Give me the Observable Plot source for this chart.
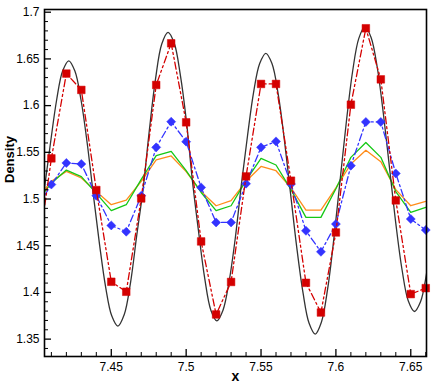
<!DOCTYPE html>
<html><head><meta charset="utf-8">
<script src="https://cdn.jsdelivr.net/npm/d3@7"></script>
<script src="https://cdn.jsdelivr.net/npm/@observablehq/plot@0.6"></script>
<style>body{margin:0;background:#fff} #chart{width:436px;height:388px}</style>
</head><body><div id="chart"></div>
<script>
// grid positions of the discrete solutions (7.40 and 7.66 fall just outside/at the frame)
const gridX = [7.40,7.41,7.42,7.43,7.44,7.45,7.46,7.47,7.48,7.49,7.50,7.51,7.52,7.53,7.54,7.55,7.56,7.57,7.58,7.59,7.60,7.61,7.62,7.63,7.64,7.65,7.66];
const redSquares = [1.430,1.5435,1.6343,1.6168,1.5096,1.4114,1.4007,1.5006,1.6221,1.6667,1.5821,1.4546,1.3764,1.4112,1.5242,1.6232,1.6232,1.5196,1.4103,1.3785,1.4642,1.6010,1.6828,1.6281,1.4985,1.3982,1.4046];
const blueDiamonds = [1.490,1.5155,1.5386,1.5375,1.5035,1.4717,1.4650,1.5035,1.5553,1.5828,1.5614,1.5124,1.4749,1.4749,1.5164,1.5553,1.5617,1.5160,1.4660,1.4435,1.4732,1.5357,1.5825,1.5825,1.5274,1.4786,1.4668];
const greenLine = [1.497,1.517,1.531,1.524,1.506,1.4875,1.4939,1.521,1.5464,1.5510,1.5303,1.507,1.4875,1.4928,1.520,1.5435,1.5364,1.510,1.4803,1.4803,1.511,1.5446,1.5606,1.5446,1.508,1.4857,1.491];
const orangeLine = [1.500,1.519,1.5296,1.5225,1.508,1.4939,1.4989,1.519,1.5418,1.5461,1.5293,1.508,1.4928,1.4982,1.519,1.5349,1.5303,1.512,1.4882,1.4882,1.512,1.5375,1.5521,1.540,1.510,1.4928,1.4974];

// reference (exact) solution
const exactX = [7.4013,7.4054,7.4094,7.4135,7.4175,7.4216,7.4257,7.4298,7.4339,7.4380,7.4421,7.4462,7.4503,7.4544,
  7.4586,7.4628,7.4670,7.4712,7.4753,7.4795,7.4837,7.4879,7.4920,7.4961,7.5002,7.5042,7.5083,7.5124,7.5165,7.5205,
  7.5246,7.5287,7.5328,7.5369,7.5410,7.5450,7.5491,7.5532,7.5573,7.5615,7.5656,7.5697,7.5738,7.5780,7.5821,7.5862,
  7.5903,7.5945,7.5986,7.6028,7.6070,7.6111,7.6153,7.6194,7.6235,7.6277,7.6318,7.6359,7.6400,7.6442,7.6483,7.6524,
  7.6565,7.6605,7.6650];
const exactY = [1.460,1.512,1.560,1.606,1.637,1.648,1.637,1.606,1.560,1.505,1.452,1.406,1.375,1.364,
  1.376,1.410,1.461,1.510,1.572,1.628,1.666,1.6785,1.667,1.633,1.583,1.519,1.465,1.415,1.381,1.3696,
  1.381,1.412,1.458,1.516,1.568,1.614,1.645,1.656,1.645,1.612,1.563,1.506,1.449,1.400,1.367,1.3554,
  1.368,1.404,1.457,1.520,1.583,1.636,1.672,1.6846,1.673,1.640,1.590,1.532,1.474,1.424,1.391,1.3796,
  1.390,1.420,1.470];

const xMajorTicks = [7.45,7.5,7.55,7.6,7.65];
const xMinorTicks = [7.41,7.42,7.43,7.44,7.46,7.47,7.48,7.49,7.51,7.52,7.53,7.54,7.56,7.57,7.58,7.59,7.61,7.62,7.63,7.64,7.66];
const yMajorTicks = [1.35,1.4,1.45,1.5,1.55,1.6,1.65,1.7];
const yMinorTicks = [1.34,1.36,1.37,1.38,1.39,1.41,1.42,1.43,1.44,1.46,1.47,1.48,1.49,1.51,1.52,1.53,1.54,1.56,1.57,1.58,1.59,1.61,1.62,1.63,1.64,1.66,1.67,1.68,1.69];
const xLabel = "x";
const yLabel = "Density";

const grid = gridX.map((x, i) => ({x, red: redSquares[i], blue: blueDiamonds[i], green: greenLine[i], orange: orangeLine[i]}));
const exact = exactX.map((x, i) => ({x, y: exactY[i]}));
const inside = grid.filter(d => d.x >= 7.405 && d.x <= 7.6605);

const diamond = {draw(ctx, size) { const r = Math.sqrt(size / 2); ctx.moveTo(0, -r); ctx.lineTo(r, 0); ctx.lineTo(0, r); ctx.lineTo(-r, 0); ctx.closePath(); }};
const fmt = d3.format("~g");

const chart = Plot.plot({
  width: 436, height: 388,
  marginLeft: 44, marginRight: 10, marginTop: 9, marginBottom: 32,
  style: {fontFamily: "'Liberation Sans', Arial, sans-serif", fontSize: "12px", background: "white", color: "black", overflow: "visible"},
  x: {domain: [7.4054, 7.6605]},
  y: {domain: [1.3314, 1.7029]},
  marks: [
    Plot.line(grid, {x: "x", y: "orange", stroke: "#ff8c1a", strokeWidth: 1.3, clip: true}),
    Plot.line(grid, {x: "x", y: "green", stroke: "#14c814", strokeWidth: 1.3, clip: true}),
    Plot.line(exact, {x: "x", y: "y", stroke: "#333333", strokeWidth: 1.3, curve: "catmull-rom", clip: true}),
    Plot.line(grid, {x: "x", y: "blue", stroke: "#3333ff", strokeWidth: 1.3, strokeDasharray: "7,3,2,3", clip: true}),
    Plot.dot(inside, {x: "x", y: "blue", symbol: diamond, r: 3.6, fill: "#3333ff", stroke: "#3333ff", strokeWidth: 0.5}),
    Plot.line(grid, {x: "x", y: "red", stroke: "#d40000", strokeWidth: 1.3, strokeDasharray: "7,3,2,3,2,3", clip: true}),
    Plot.dot(inside, {x: "x", y: "red", symbol: "square", r: 4.3, fill: "#d40000", stroke: "#d40000", strokeWidth: 0.5}),
    Plot.frame({stroke: "black", strokeWidth: 1.6}),
    Plot.axisX({ticks: xMajorTicks, tickSize: 0, tickPadding: 6, tickFormat: fmt, label: null, fontSize: 12}),
    Plot.axisX({ticks: xMajorTicks, tickSize: -7, tickFormat: () => "", label: null, strokeWidth: 1.3}),
    Plot.axisX({ticks: xMinorTicks, tickSize: -4, tickFormat: () => "", label: null}),
    Plot.axisY({ticks: yMajorTicks, tickSize: 0, tickPadding: 5, tickFormat: fmt, label: null, fontSize: 12}),
    Plot.axisY({ticks: yMajorTicks, tickSize: -7, tickFormat: () => "", label: null, strokeWidth: 1.3}),
    Plot.axisY({ticks: yMinorTicks, tickSize: -4, tickFormat: () => "", label: null}),
    Plot.text([yLabel], {frameAnchor: "left", text: d => d, rotate: -90, dx: -35, fontWeight: "bold", fontSize: 13}),
    Plot.text([xLabel], {frameAnchor: "bottom", text: d => d, dy: 24, fontWeight: "bold", fontSize: 14})
  ]
});
document.getElementById("chart").appendChild(chart);
</script>
</body></html>
